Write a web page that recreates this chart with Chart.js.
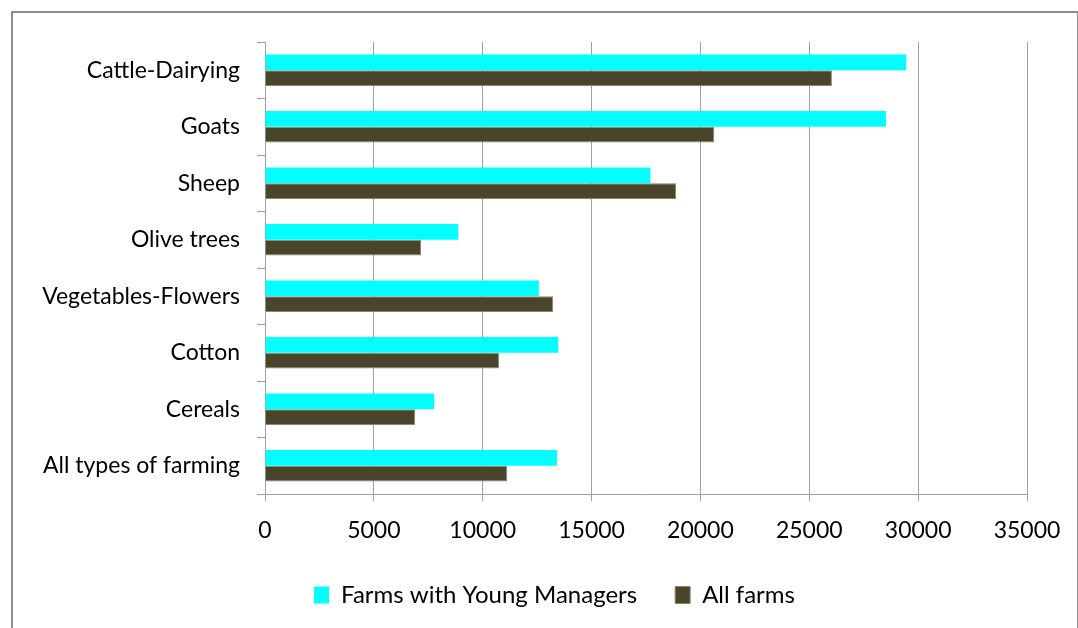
<!DOCTYPE html>
<html>
<head>
<meta charset="utf-8">
<script src="https://cdn.jsdelivr.net/npm/chart.js@4.4.1/dist/chart.umd.min.js"></script>
<style>
    html, body { margin: 0; padding: 0; background: #fff; }
    #frame {
        position: absolute; left: 11px; top: 11px;
        width: 1064px; height: 640px;
        border: 2px solid #8c8c8c;
    }
    #wrap { position: absolute; left: 0; top: 0; width: 1078px; height: 628px; }
</style>
</head>
<body>
<div id="frame"></div>
<div id="wrap"><canvas id="farmChart"></canvas></div>
<script>
const categories = ['Cattle-Dairying', 'Goats', 'Sheep', 'Olive trees', 'Vegetables-Flowers', 'Cotton', 'Cereals', 'All types of farming'];
const youngManagers = [29450, 28520, 17700, 8880, 12580, 13470, 7770, 13410];
const allFarms = [26040, 20640, 18880, 7170, 13240, 10760, 6890, 11130];
const xTicks = [0, 5000, 10000, 15000, 20000, 25000, 30000, 35000];

const FONT = 'Lato, "Open Sans", sans-serif';

// nudge the legend to the right, it is centred under the plot in the original
const legendShift = {
    id: 'legendShift',
    afterLayout: (chart) => {
        chart.legend.left += 41;
        chart.legend.right += 41;
    }
};

const createChart = (container) => {
    const ctx = document.getElementById(container);

    const data = {
        labels: categories,
        datasets: [
            {
                label: 'Farms with Young Managers',
                data: youngManagers,
                backgroundColor: '#00FFFF',
                borderWidth: 0,
                barPercentage: 1.0,
                categoryPercentage: 0.56
            },
            {
                label: 'All farms',
                data: allFarms,
                backgroundColor: '#4A452A',
                borderColor: '#8a866f',
                borderWidth: 1,
                borderSkipped: 'left',
                barPercentage: 1.0,
                categoryPercentage: 0.56
            }
        ]
    };

    return new Chart(ctx, {
        type: 'bar',
        data: data,
        plugins: [legendShift],
        options: {
            indexAxis: 'y',
            responsive: true,
            maintainAspectRatio: false,
            animation: false,
            layout: {
                padding: { top: 42, right: 51, left: 0, bottom: 11 }
            },
            plugins: {
                tooltip: { enabled: false },
                legend: {
                    position: 'bottom',
                    labels: {
                        font: { family: FONT, size: 24 },
                        color: '#000',
                        boxWidth: 15,
                        boxHeight: 17,
                        padding: 38
                    }
                }
            },
            scales: {
                x: {
                    min: 0,
                    max: 35000,
                    afterBuildTicks: (scale) => {
                        scale.ticks = xTicks.map(v => ({ value: v }));
                    },
                    afterFit: (scale) => { scale.height = 51; },
                    grid: {
                        color: '#a0a0a0',
                        lineWidth: 1,
                        tickLength: 7,
                        tickColor: '#a0a0a0'
                    },
                    border: { display: true, color: '#a0a0a0' },
                    ticks: {
                        font: { family: FONT, size: 23 },
                        color: '#000',
                        padding: 16,
                        maxRotation: 0,
                        callback: (value) => String(value)
                    }
                },
                y: {
                    afterFit: (scale) => { scale.width = 265; },
                    grid: {
                        offset: true,
                        drawOnChartArea: false,
                        tickLength: 8,
                        tickColor: '#a0a0a0'
                    },
                    border: { display: true, color: '#a0a0a0' },
                    ticks: {
                        font: { family: FONT, size: 23 },
                        color: '#000',
                        padding: 17
                    }
                }
            }
        }
    });
};

createChart('farmChart');
</script>
</body>
</html>
